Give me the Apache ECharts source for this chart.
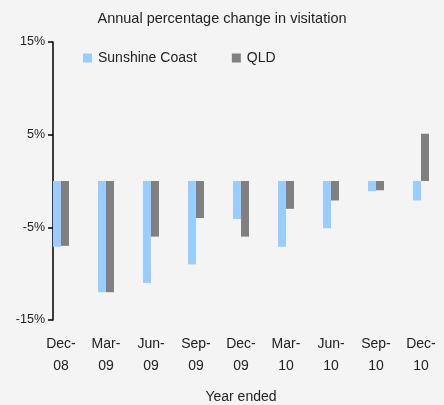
<!DOCTYPE html>
<html>
<head>
<meta charset="utf-8">
<script src="https://cdn.jsdelivr.net/npm/echarts@6/dist/echarts.min.js"></script>
<style>
  html, body { margin: 0; padding: 0; background: #f4f4f4; }
  #chart { width: 444px; height: 405px; }
</style>
</head>
<body>
<div id="chart"></div>
<script>
// 季度 (year ended)
const categories = ['Dec-\n08', 'Mar-\n09', 'Jun-\n09', 'Sep-\n09', 'Dec-\n09', 'Mar-\n10', 'Jun-\n10', 'Sep-\n10', 'Dec-\n10']
const sunshineCoast = [-7.1, -12, -11, -9, -4.1, -7.1, -5.1, -1.1, -2.1]
const qld = [-7, -12, -6, -4, -6, -3, -2.1, -1, 5.1]
const yTicks = [-15, -5, 5, 15]

const font = "'Liberation Sans', Arial, sans-serif"
const chart = echarts.init(document.getElementById('chart'))

chart.setOption({
  backgroundColor: '#f4f4f4',
  animation: false,
  textStyle: { fontFamily: font },
  title: {
    text: 'Annual percentage change in visitation',
    left: 'center',
    top: 11,
    padding: 0,
    textStyle: { fontFamily: font, fontSize: 14.5, fontWeight: 'normal', color: '#222' }
  },
  legend: {
    data: ['Sunshine Coast', 'QLD'],
    left: 83,
    top: 51,
    padding: 0,
    itemWidth: 9,
    itemHeight: 9,
    itemGap: 35,
    icon: 'rect',
    textStyle: { fontFamily: font, fontSize: 14, color: '#222', padding: [0, 0, 0, 1] }
  },
  grid: {
    left: 38.5,
    right: 0.5,
    top: 42,
    bottom: 85,
    outerBoundsMode: 'none',
    containLabel: false
  },
  xAxis: {
    type: 'category',
    data: categories,
    name: 'Year ended',
    nameLocation: 'middle',
    nameGap: 70,
    nameTextStyle: { fontFamily: font, fontSize: 14, color: '#222' },
    axisLine: { show: false },
    axisTick: { show: false },
    axisLabel: {
      interval: 0,
      margin: 13,
      lineHeight: 22,
      fontSize: 14,
      color: '#222',
      fontFamily: font
    }
  },
  yAxis: {
    type: 'value',
    min: -15,
    max: 15,
    offset: -14.5,
    splitLine: { show: false },
    axisLine: { show: true, lineStyle: { color: '#000', width: 1.5 } },
    axisTick: { show: true, length: 5, customValues: yTicks, lineStyle: { color: '#000', width: 1.5 } },
    axisLabel: {
      customValues: yTicks,
      margin: 8,
      fontSize: 12.5,
      color: '#222',
      fontFamily: font,
      formatter: (v) => v + '%'
    }
  },
  series: [
    {
      name: 'Sunshine Coast',
      type: 'bar',
      data: sunshineCoast,
      barWidth: 8,
      barGap: 0,
      itemStyle: { color: '#99ccff' }
    },
    {
      name: 'QLD',
      type: 'bar',
      data: qld,
      barWidth: 8,
      itemStyle: { color: '#808080' }
    }
  ]
})
</script>
</body>
</html>
